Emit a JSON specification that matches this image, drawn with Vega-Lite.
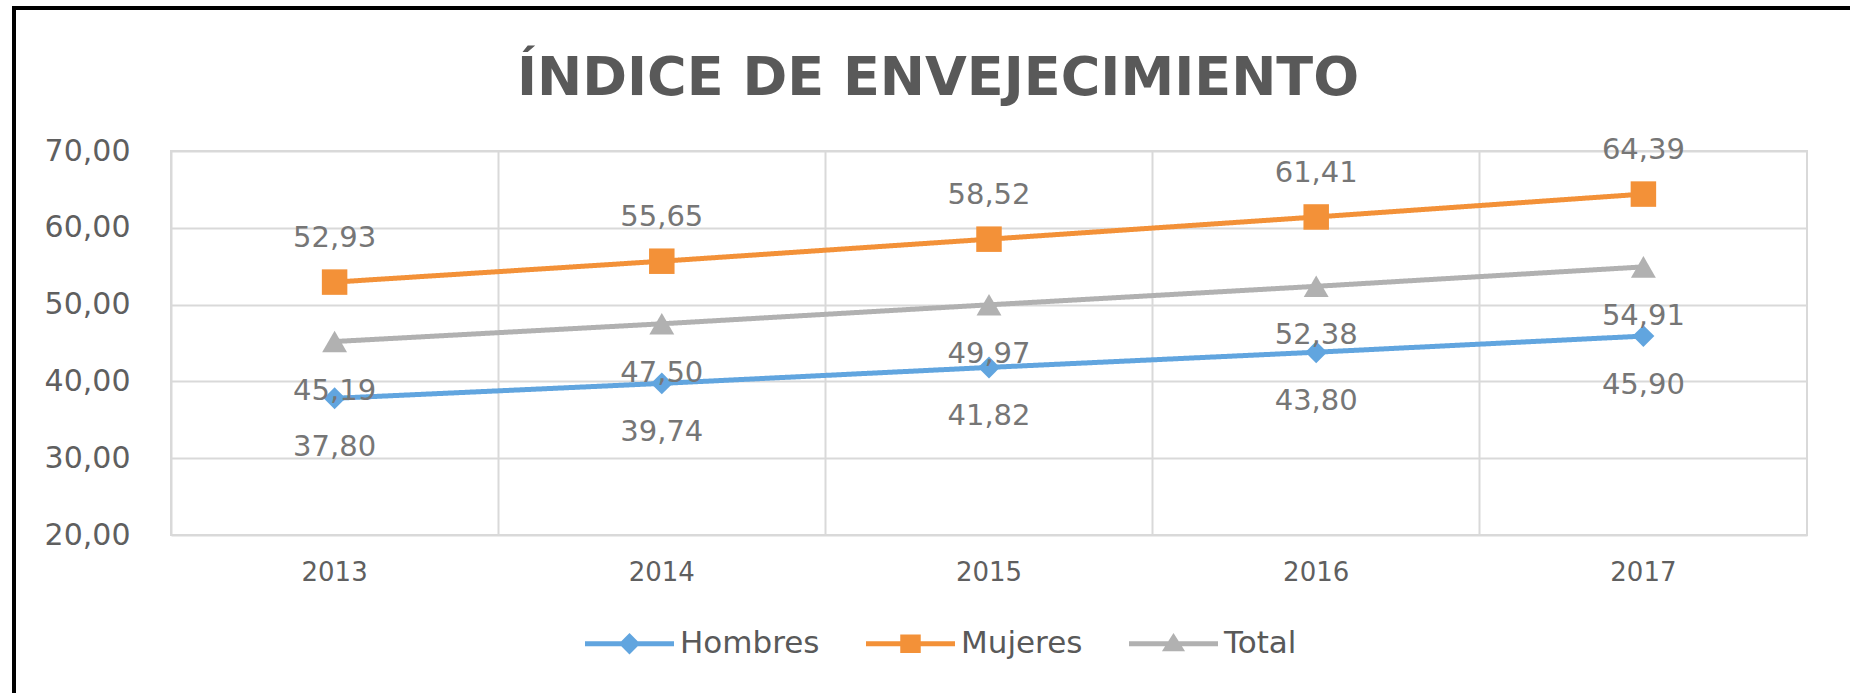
{
  "$schema": "https://vega.github.io/schema/vega-lite/v6.json",
  "width": 1636,
  "height": 384,
  "autosize": {"type": "none"},
  "padding": {"left": 171, "top": 151, "right": 43, "bottom": 158},
  "background": "white",
  "title": {"text": "ÍNDICE DE ENVEJECIMIENTO", "font": "DejaVu Sans", "fontSize": 54, "fontWeight": "bold", "color": "#595959", "anchor": "middle", "frame": "group", "dx": -51, "baseline": "alphabetic", "offset": -143},
  "config": {
    "locale": {"number": {"decimal": ",", "thousands": ".", "grouping": [3], "currency": ["", " €"]}},
    "view": {"stroke": "#d9d9d9", "strokeWidth": 2},
    "axis": {"gridColor": "#d9d9d9", "gridWidth": 2, "domain": false, "ticks": false, "labelFont": "DejaVu Sans", "labelColor": "#5f5f5f", "title": null}
  },
  "data": {"values": [
    {"year": "2013", "serie": "Hombres", "value": 37.80},
    {"year": "2014", "serie": "Hombres", "value": 39.74},
    {"year": "2015", "serie": "Hombres", "value": 41.82},
    {"year": "2016", "serie": "Hombres", "value": 43.80},
    {"year": "2017", "serie": "Hombres", "value": 45.90},
    {"year": "2013", "serie": "Mujeres", "value": 52.93},
    {"year": "2014", "serie": "Mujeres", "value": 55.65},
    {"year": "2015", "serie": "Mujeres", "value": 58.52},
    {"year": "2016", "serie": "Mujeres", "value": 61.41},
    {"year": "2017", "serie": "Mujeres", "value": 64.39},
    {"year": "2013", "serie": "Total", "value": 45.19},
    {"year": "2014", "serie": "Total", "value": 47.50},
    {"year": "2015", "serie": "Total", "value": 49.97},
    {"year": "2016", "serie": "Total", "value": 52.38},
    {"year": "2017", "serie": "Total", "value": 54.91}
  ]},
  "encoding": {
    "x": {"field": "year", "type": "ordinal", "scale": {"type": "band", "paddingInner": 0, "paddingOuter": 0}, "bandPosition": 0.5, "axis": {"labelAngle": 0, "labelFontSize": 26, "labelPadding": 24, "grid": true, "bandPosition": 0, "title": null}},
    "y": {"field": "value", "type": "quantitative", "scale": {"domain": [20, 70], "nice": false, "zero": false}, "axis": {"values": [20, 30, 40, 50, 60, 70], "format": ".2f", "labelFontSize": 30, "labelPadding": 41, "title": null}}
  },
  "layer": [
    {
      "mark": {"type": "line", "strokeWidth": 5, "strokeCap": "round"},
      "encoding": {
        "color": {"field": "serie", "type": "nominal", "scale": {"domain": ["Hombres", "Mujeres", "Total"], "range": ["#61A5DF", "#F39138", "#B1B1B1"]},
          "legend": {"orient": "none", "legendX": 414, "legendY": 448, "direction": "horizontal", "title": null, "labelFont": "DejaVu Sans", "labelFontSize": 31, "labelColor": "#595959", "symbolSize": 7921, "labelOffset": 6, "columnPadding": 46,
            "encode": {"symbols": {"update": {
              "shape": {"signal": "datum.value === 'Hombres' ? 'M-1,-0.056L1,-0.056L1,0.056L-1,0.056ZM0,-0.24L0.24,0L0,0.24L-0.24,0Z' : datum.value === 'Mujeres' ? 'M-1,-0.056L1,-0.056L1,0.056L-1,0.056ZM-0.23,-0.21L0.23,-0.21L0.23,0.21L-0.23,0.21Z' : 'M-1,-0.056L1,-0.056L1,0.056L-1,0.056ZM0,-0.24L0.26,0.17L-0.26,0.17Z'"},
              "fill": {"scale": "color", "field": "value"},
              "fillOpacity": {"value": 1},
              "stroke": {"value": "transparent"},
              "strokeWidth": {"value": 0}
            }}}
          }
        },
        "strokeDash": {"datum": "marco", "type": "nominal", "scale": {"range": [[1, 0]]},
          "legend": {"orient": "none", "legendX": -157, "legendY": -143, "title": null, "padding": 1200, "strokeColor": "#000000", "symbolOpacity": 0, "labelExpr": "''",
            "encode": {"legend": {"update": {"strokeWidth": {"value": 4}}}}
          }
        }
      }
    },
    {
      "transform": [{"filter": "datum.serie === 'Hombres'"}],
      "mark": {"type": "point", "shape": "diamond", "size": 480, "filled": true, "opacity": 1, "color": "#61A5DF"}
    },
    {
      "transform": [{"filter": "datum.serie === 'Mujeres'"}],
      "mark": {"type": "point", "shape": "square", "size": 650, "filled": true, "opacity": 1, "color": "#F39138"}
    },
    {
      "transform": [{"filter": "datum.serie === 'Total'"}],
      "mark": {"type": "point", "shape": "triangle-up", "size": 620, "filled": true, "opacity": 1, "color": "#B1B1B1"}
    },
    {
      "transform": [{"filter": "datum.serie === 'Mujeres'"}],
      "mark": {"type": "text", "dy": -44, "font": "DejaVu Sans", "fontSize": 29, "color": "#767676", "baseline": "middle", "align": "center"},
      "encoding": {"text": {"field": "value", "type": "quantitative", "format": ".2f"}}
    },
    {
      "transform": [{"filter": "datum.serie !== 'Mujeres'"}],
      "mark": {"type": "text", "dy": 49, "font": "DejaVu Sans", "fontSize": 29, "color": "#767676", "baseline": "middle", "align": "center"},
      "encoding": {"text": {"field": "value", "type": "quantitative", "format": ".2f"}}
    }
  ]
}
